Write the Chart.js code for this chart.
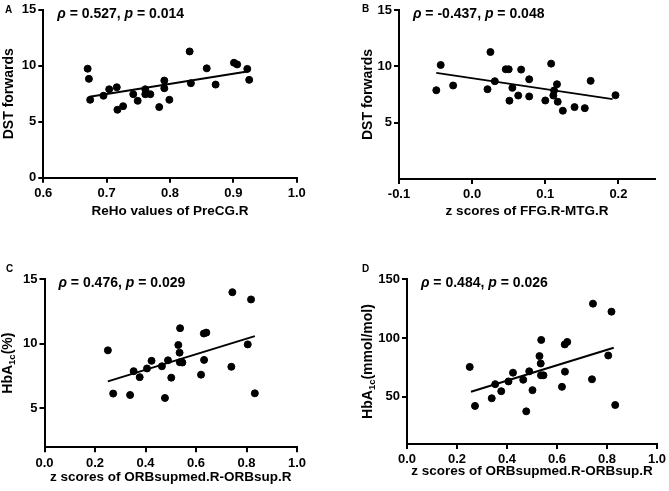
<!DOCTYPE html>
<html>
<head>
<meta charset="utf-8">
<script src="https://cdn.jsdelivr.net/npm/chart.js@4/dist/chart.umd.min.js"></script>
<style>
    html, body { margin: 0; padding: 0; background: #fff; }
    #wrap { position: relative; width: 669px; height: 491px; }
    #wrap canvas { position: absolute; }
</style>
</head>
<body>
<div id="wrap">
    <canvas id="panel-a" width="335" height="245" style="left:0;top:0"></canvas>
    <canvas id="panel-b" width="334" height="245" style="left:335px;top:0"></canvas>
    <canvas id="panel-c" width="335" height="246" style="left:0;top:245px"></canvas>
    <canvas id="panel-d" width="334" height="246" style="left:335px;top:245px"></canvas>
</div>
<script>
// Panel A: ReHo values of PreCG.R vs DST forwards
const rehoPreCG = [0.670, 0.672, 0.674, 0.695, 0.704, 0.716, 0.717, 0.726, 0.742, 0.749, 0.761, 0.761, 0.769,
    0.783, 0.791, 0.791, 0.799, 0.831, 0.833, 0.858, 0.872, 0.901, 0.906, 0.922, 0.925];
const dstForwardsA = [9.74, 8.83, 6.96, 7.32, 7.90, 8.08, 6.07, 6.39, 7.46, 6.87, 7.90, 7.46, 7.46,
    6.31, 8.68, 7.99, 6.96, 11.28, 8.44, 9.77, 8.32, 10.27, 10.12, 9.72, 8.74];
const fitAX = [0.673, 0.922];
const fitAY = [7.23, 9.48];

// Panel B: z scores of FFG.R-MTG.R vs DST forwards
const zFfgMtg = [-0.049, -0.043, -0.026, 0.021, 0.025, 0.031, 0.046, 0.050, 0.051, 0.055, 0.063, 0.067, 0.078,
    0.078, 0.100, 0.108, 0.112, 0.111, 0.116, 0.117, 0.124, 0.140, 0.154, 0.162, 0.196];
const dstForwardsB = [7.88, 10.12, 8.30, 7.97, 11.27, 8.68, 9.74, 9.74, 6.95, 8.09, 7.41, 9.71, 8.85,
    7.33, 6.97, 10.24, 7.86, 7.41, 8.41, 6.86, 6.06, 6.38, 6.29, 8.71, 7.44];
const fitBX = [-0.049, 0.192];
const fitBY = [9.42, 7.09];

// Panels C and D: z scores of ORBsupmed.R-ORBsup.R vs HbA1c
const zOrb = [0.251, 0.272, 0.339, 0.353, 0.377, 0.406, 0.424, 0.465, 0.477, 0.489, 0.502, 0.530, 0.535,
    0.537, 0.536, 0.546, 0.620, 0.631, 0.641, 0.632, 0.740, 0.744, 0.805, 0.818, 0.833];
const hba1cPercent = [9.49, 6.15, 6.04, 7.88, 7.42, 8.09, 8.68, 8.26, 5.81, 8.72, 7.38, 9.90, 9.31,
    11.2, 8.57, 8.55, 7.61, 10.79, 10.86, 8.75, 8.22, 13.98, 9.95, 13.42, 6.17];
const hba1cMmol = [75.4, 42.3, 48.8, 60.8, 54.8, 63.1, 70.5, 64.5, 37.7, 71.7, 55.7, 84.6, 78.3,
    98.3, 68.3, 68.3, 58.5, 94.5, 96.6, 71.4, 64.9, 129.1, 85.1, 122.3, 43.1];
const fitCX = [0.251, 0.833];
const fitCY = [7.09, 10.59];
const fitDX = [0.256, 0.827];
const fitDY = [54.3, 91.7];

// Tick values
const xTicksA = [0.6, 0.7, 0.8, 0.9, 1.0];
const xTicksB = [-0.1, 0.0, 0.1, 0.2];
const xTicksCD = [0.0, 0.2, 0.4, 0.6, 0.8, 1.0];
const yTicksA = [0, 5, 10, 15];
const yTicksBC = [5, 10, 15];
const yTicksD = [50, 100, 150];

// Statistics
const panelLetters = ['A', 'B', 'C', 'D'];
const rhoValues = ['0.527', '-0.437', '0.476', '0.484'];
const pValues = ['0.014', '0.048', '0.029', '0.026'];

const FONT = '"Liberation Sans", Arial, sans-serif';
Chart.defaults.font.family = FONT;
Chart.defaults.color = '#000';

function toPoints(xs, ys) {
    return xs.map((x, i) => ({ x: x, y: ys[i] }));
}

function fixedTicks(values) {
    return function(scale) {
        scale.ticks = values.map(v => ({ value: v }));
    };
}

function runFont(r) {
    return (r.italic ? 'italic ' : '') + 'bold ' + (r.size || 14) + 'px ' + FONT;
}

function drawRuns(ctx, runs, x, y, centered) {
    const widths = runs.map(r => {
        ctx.font = runFont(r);
        return ctx.measureText(r.text).width;
    });
    const total = widths.reduce((a, b) => a + b, 0);
    let cx = centered ? x - total / 2 : x;
    runs.forEach((r, i) => {
        ctx.font = runFont(r);
        ctx.fillText(r.text, cx, y + (r.shift || 0));
        cx += widths[i];
    });
}

// letter, statistics line and rotated y title
function panelText(o) {
    return {
        id: 'panelText',
        afterDraw(chart) {
            const ctx = chart.ctx;
            const a = chart.chartArea;
            ctx.save();
            ctx.fillStyle = '#000';
            ctx.textAlign = 'left';
            ctx.textBaseline = 'alphabetic';

            ctx.font = 'bold 10px ' + FONT;
            ctx.fillText(o.letter, o.letterX, o.letterY);

            drawRuns(ctx, [
                { text: 'ρ', italic: true },
                { text: ' = ' + o.rho + ', ' },
                { text: 'p', italic: true },
                { text: ' = ' + o.p }
            ], a.left + 14, a.top + 7.7, false);

            ctx.translate(o.yTitleX, (a.top + a.bottom) / 2);
            ctx.rotate(-Math.PI / 2);
            ctx.textBaseline = 'middle';
            drawRuns(ctx, o.yTitle, 0, 0, true);
            ctx.restore();
        }
    };
}

const axisGrid = {
    drawOnChartArea: false,
    drawTicks: true,
    tickLength: 5,
    color: '#000',
    lineWidth: 2
};
const axisBorder = { display: true, color: '#000', width: 2 };
const tickFont = { size: 13, weight: 'bold' };

function makePanel(id, cfg) {
    const ctx = document.getElementById(id);
    if (!ctx) return;

    return new Chart(ctx, {
        type: 'scatter',
        data: {
            datasets: [{
                data: toPoints(cfg.xs, cfg.ys),
                backgroundColor: '#000',
                borderColor: '#000',
                pointRadius: 3.5,
                pointHoverRadius: 3.5
            }, {
                data: toPoints(cfg.fitX, cfg.fitY),
                showLine: true,
                borderColor: '#000',
                borderWidth: 2,
                pointRadius: 0
            }]
        },
        options: {
            responsive: false,
            animation: false,
            events: [],
            layout: {
                padding: { top: cfg.top, right: cfg.right, left: 0, bottom: 0 }
            },
            plugins: {
                legend: { display: false },
                tooltip: { enabled: false }
            },
            scales: {
                x: {
                    type: 'linear',
                    min: cfg.xMin,
                    max: cfg.xMax,
                    afterBuildTicks: fixedTicks(cfg.xTicks),
                    afterFit: s => { s.height = cfg.xHeight; },
                    ticks: {
                        font: tickFont,
                        color: '#000',
                        padding: 3,
                        maxRotation: 0,
                        autoSkip: false,
                        callback: v => v.toFixed(1)
                    },
                    grid: axisGrid,
                    border: axisBorder,
                    title: {
                        display: true,
                        text: cfg.xTitle,
                        color: '#000',
                        font: { size: 13.5, weight: 'bold' },
                        padding: { top: 0, bottom: cfg.xTitlePad }
                    }
                },
                y: {
                    type: 'linear',
                    min: cfg.yMin,
                    max: cfg.yMax,
                    afterBuildTicks: fixedTicks(cfg.yTicks),
                    afterFit: s => { s.width = cfg.yWidth; },
                    ticks: {
                        font: tickFont,
                        color: '#000',
                        padding: 2,
                        autoSkip: false
                    },
                    grid: axisGrid,
                    border: axisBorder
                }
            }
        },
        plugins: [panelText(cfg.text)]
    });
}

const dstTitle = [{ text: 'DST forwards' }];

makePanel('panel-a', {
    xs: rehoPreCG, ys: dstForwardsA, fitX: fitAX, fitY: fitAY,
    xMin: 0.6, xMax: 1.0, xTicks: xTicksA,
    yMin: 0, yMax: 15, yTicks: yTicksA,
    top: 9, right: 38.3, yWidth: 43.3, xHeight: 67.3, xTitlePad: 26,
    xTitle: 'ReHo values of PreCG.R',
    text: { letter: panelLetters[0], letterX: 5, letterY: 13, rho: rhoValues[0], p: pValues[0], yTitleX: 9.5, yTitle: dstTitle }
});

makePanel('panel-b', {
    xs: zFfgMtg, ys: dstForwardsB, fitX: fitBX, fitY: fitBY,
    xMin: -0.1, xMax: 0.25, xTicks: xTicksB,
    yMin: 0, yMax: 15, yTicks: yTicksBC,
    top: 10, right: 14, yWidth: 64, xHeight: 66, xTitlePad: 25.6,
    xTitle: 'z scores of FFG.R-MTG.R',
    text: { letter: panelLetters[1], letterX: 27, letterY: 12, rho: rhoValues[1], p: pValues[1], yTitleX: 33, yTitle: dstTitle }
});

makePanel('panel-c', {
    xs: zOrb, ys: hba1cPercent, fitX: fitCX, fitY: fitCY,
    xMin: 0, xMax: 1.0, xTicks: xTicksCD,
    yMin: 2, yMax: 15, yTicks: yTicksBC,
    top: 34, right: 38, yWidth: 44.5, xHeight: 43.7, xTitlePad: 5.6,
    xTitle: 'z scores of ORBsupmed.R-ORBsup.R',
    text: {
        letter: panelLetters[2], letterX: 6, letterY: 27, rho: rhoValues[2], p: pValues[2], yTitleX: 8.5,
        yTitle: [{ text: 'HbA' }, { text: '1c', size: 9.5, shift: 4 }, { text: '(%)' }]
    }
});

makePanel('panel-d', {
    xs: zOrb, ys: hba1cMmol, fitX: fitDX, fitY: fitDY,
    xMin: 0, xMax: 1.0, xTicks: xTicksCD,
    yMin: 10, yMax: 150, yTicks: yTicksD,
    top: 34, right: 12, yWidth: 72, xHeight: 47, xTitlePad: 11.6,
    xTitle: 'z scores of ORBsupmed.R-ORBsup.R',
    text: {
        letter: panelLetters[3], letterX: 27, letterY: 27, rho: rhoValues[3], p: pValues[3], yTitleX: 33,
        yTitle: [{ text: 'HbA' }, { text: '1c', size: 9.5, shift: 4 }, { text: '(mmol/mol)' }]
    }
});
</script>
</body>
</html>
